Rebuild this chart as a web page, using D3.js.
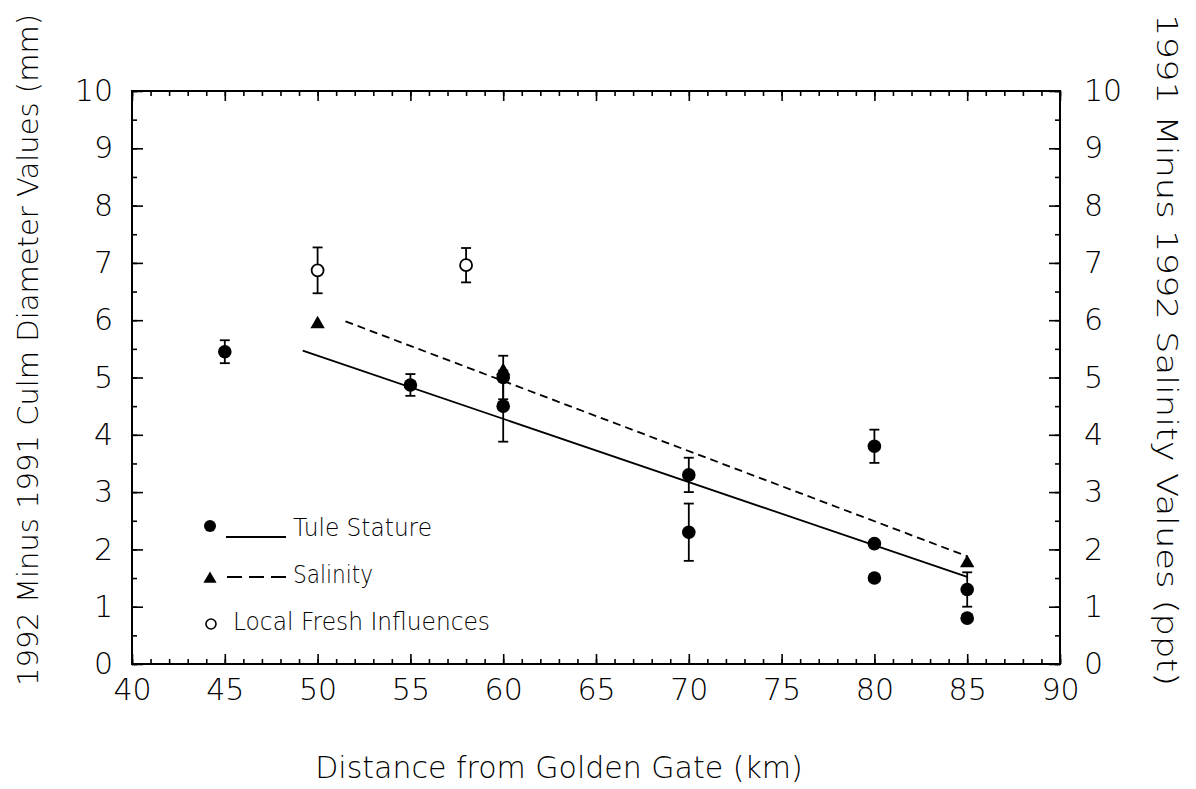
<!DOCTYPE html>
<html><head><meta charset="utf-8">
<script src="https://cdn.jsdelivr.net/npm/d3@7"></script>
<style>
body{margin:0;background:#fff}
text{font-family:"DejaVu Sans","Liberation Sans",sans-serif;font-weight:300;fill:#000}
</style>
</head><body>
<svg id="c" width="1196" height="789"></svg>
<script>
// ---- data ----
const xTicks = [40, 45, 50, 55, 60, 65, 70, 75, 80, 85, 90];
const yTicks = [0, 1, 2, 3, 4, 5, 6, 7, 8, 9, 10];

const tuleX   = [45, 55, 60, 60, 70, 70, 80, 80, 80, 85, 85];
const tuleY   = [5.45, 4.87, 5.0, 4.5, 3.3, 2.3, 3.8, 2.1, 1.5, 1.3, 0.8];
const tuleErr = [0.2, 0.19, 0.38, 0.62, 0.3, 0.5, 0.29, 0, 0, 0.3, 0];

const salinityX = [50, 60, 85];
const salinityY = [5.95, 5.13, 1.78];

const freshX   = [50, 58];
const freshY   = [6.87, 6.96];
const freshErr = [0.4, 0.3];

const tuleFitX = [49.2, 85];
const tuleFitY = [5.47, 1.52];
const salinityFitX = [51.5, 85];
const salinityFitY = [5.98, 1.88];

const legendLabels = ["Tule Stature", "Salinity", "Local Fresh Influences"];

// ---- chart ----
const svg = d3.select("#c");
const x = d3.scaleLinear().domain([40, 90]).range([132, 1060]);
const y = d3.scaleLinear().domain([0, 10]).range([664, 91]);
const xMinor = d3.range(40, 90.01, 1);
const yMinor = d3.range(0, 10.01, 0.5);

function styleAxis(g){
  g.select(".domain").remove();
  g.selectAll("line").attr("stroke","#000").attr("stroke-width",1.6);
  g.selectAll("text").attr("font-size",30).attr("font-family",'"DejaVu Sans",sans-serif').attr("font-weight",300);
}
// minor ticks
svg.append("g").attr("transform","translate(132,0)").call(d3.axisLeft(y).tickValues(yMinor).tickSize(-5).tickFormat("")).call(styleAxis);
svg.append("g").attr("transform","translate(1060,0)").call(d3.axisRight(y).tickValues(yMinor).tickSize(-5).tickFormat("")).call(styleAxis);
svg.append("g").attr("transform","translate(0,664)").call(d3.axisBottom(x).tickValues(xMinor).tickSize(-5).tickFormat("")).call(styleAxis);
svg.append("g").attr("transform","translate(0,91)").call(d3.axisTop(x).tickValues(xMinor).tickSize(-5).tickFormat("")).call(styleAxis);
// major ticks + labels
svg.append("g").attr("transform","translate(132,0)").call(d3.axisLeft(y).tickValues(yTicks).tickSize(-11).tickPadding(19).tickFormat(d3.format("d"))).call(styleAxis);
svg.append("g").attr("transform","translate(1060,0)").call(d3.axisRight(y).tickValues(yTicks).tickSize(-11).tickPadding(24).tickFormat(d3.format("d"))).call(styleAxis);
svg.append("g").attr("transform","translate(0,664)").call(d3.axisBottom(x).tickValues(xTicks).tickSize(-10).tickPadding(15).tickFormat(d3.format("d"))).call(styleAxis);
svg.append("g").attr("transform","translate(0,91)").call(d3.axisTop(x).tickValues(xTicks).tickSize(-10).tickFormat("")).call(styleAxis);

// frame
svg.append("rect").attr("x",x(40)).attr("y",y(10)).attr("width",x(90)-x(40)).attr("height",y(0)-y(10))
  .attr("fill","none").attr("stroke","#000").attr("stroke-width",2);

// fit lines
const line = d3.line().x(d=>x(d[0])).y(d=>y(d[1]));
svg.append("path").datum(d3.zip(tuleFitX,tuleFitY)).attr("d",line).attr("fill","none").attr("stroke","#000").attr("stroke-width",1.8);
svg.append("path").datum(d3.zip(salinityFitX,salinityFitY)).attr("d",line).attr("fill","none").attr("stroke","#000").attr("stroke-width",1.8).attr("stroke-dasharray","8,5");

// error bars
function errorBars(xs, ys, es){
  const data = d3.zip(xs, ys, es).filter(d=>d[2]>0);
  const g = svg.append("g").attr("stroke","#000").attr("stroke-width",1.8);
  data.forEach(d=>{
    const cx = x(d[0]), y1 = y(d[1]+d[2]), y2 = y(d[1]-d[2]);
    g.append("line").attr("x1",cx).attr("x2",cx).attr("y1",y1).attr("y2",y2);
    g.append("line").attr("x1",cx-5).attr("x2",cx+5).attr("y1",y1).attr("y2",y1);
    g.append("line").attr("x1",cx-5).attr("x2",cx+5).attr("y1",y2).attr("y2",y2);
  });
}
errorBars(tuleX, tuleY, tuleErr);
errorBars(freshX, freshY, freshErr);

// points
const tri = d3.symbol().type(d3.symbolTriangle).size(90);
svg.append("g").selectAll("path").data(d3.zip(salinityX,salinityY)).join("path")
  .attr("d",tri).attr("transform",d=>`translate(${x(d[0])},${y(d[1])+1})`).attr("fill","#000");
svg.append("g").selectAll("circle").data(d3.zip(tuleX,tuleY)).join("circle")
  .attr("cx",d=>x(d[0])).attr("cy",d=>y(d[1])).attr("r",6.8).attr("fill","#000");
svg.append("g").selectAll("circle").data(d3.zip(freshX,freshY)).join("circle")
  .attr("cx",d=>x(d[0])).attr("cy",d=>y(d[1])).attr("r",6).attr("fill","#fff").attr("stroke","#000").attr("stroke-width",1.8);

// legend
const lg = svg.append("g");
lg.append("circle").attr("cx",210).attr("cy",526).attr("r",6).attr("fill","#000");
lg.append("line").attr("x1",226).attr("x2",286).attr("y1",537).attr("y2",537).attr("stroke","#000").attr("stroke-width",1.8);
lg.append("text").attr("x",293).attr("y",536).attr("font-size",24).attr("textLength",139).attr("lengthAdjust","spacingAndGlyphs").text(legendLabels[0]);
lg.append("path").attr("d",d3.symbol().type(d3.symbolTriangle).size(75)).attr("transform","translate(210,579)").attr("fill","#000");
lg.append("line").attr("x1",227).attr("x2",286).attr("y1",577).attr("y2",577).attr("stroke","#000").attr("stroke-width",1.8).attr("stroke-dasharray","15,7");
lg.append("text").attr("x",293).attr("y",583).attr("font-size",24).attr("textLength",80).attr("lengthAdjust","spacingAndGlyphs").text(legendLabels[1]);
lg.append("circle").attr("cx",211).attr("cy",624).attr("r",5).attr("fill","#fff").attr("stroke","#000").attr("stroke-width",1.6);
lg.append("text").attr("x",233).attr("y",630).attr("font-size",24).attr("textLength",257).attr("lengthAdjust","spacingAndGlyphs").text(legendLabels[2]);

// axis titles
svg.append("text").attr("x",559).attr("y",778).attr("text-anchor","middle").attr("font-size",30).text("Distance from Golden Gate (km)");
svg.append("text").attr("transform","translate(38,350) rotate(-90)").attr("text-anchor","middle").attr("font-size",28)
  .attr("textLength",672).attr("lengthAdjust","spacingAndGlyphs").text("1992 Minus 1991 Culm Diameter Values (mm)");
svg.append("text").attr("transform","translate(1157,350) rotate(90)").attr("text-anchor","middle").attr("font-size",29)
  .attr("textLength",672).attr("lengthAdjust","spacingAndGlyphs").text("1991 Minus 1992 Salinity Values (ppt)");
</script>
</body></html>
